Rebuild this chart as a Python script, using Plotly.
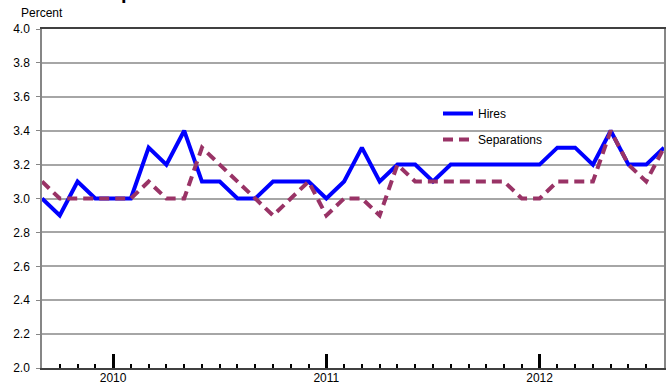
import plotly.graph_objects as go

months = ["Sep 2009", "Oct 2009", "Nov 2009", "Dec 2009",
          "Jan 2010", "Feb 2010", "Mar 2010", "Apr 2010", "May 2010", "Jun 2010",
          "Jul 2010", "Aug 2010", "Sep 2010", "Oct 2010", "Nov 2010", "Dec 2010",
          "Jan 2011", "Feb 2011", "Mar 2011", "Apr 2011", "May 2011", "Jun 2011",
          "Jul 2011", "Aug 2011", "Sep 2011", "Oct 2011", "Nov 2011", "Dec 2011",
          "Jan 2012", "Feb 2012", "Mar 2012", "Apr 2012", "May 2012", "Jun 2012",
          "Jul 2012", "Aug 2012"]

hires = [3.0, 2.9, 3.1, 3.0, 3.0, 3.0, 3.3, 3.2, 3.4, 3.1, 3.1, 3.0,
         3.0, 3.1, 3.1, 3.1, 3.0, 3.1, 3.3, 3.1, 3.2, 3.2, 3.1, 3.2,
         3.2, 3.2, 3.2, 3.2, 3.2, 3.3, 3.3, 3.2, 3.4, 3.2, 3.2, 3.3]

separations = [3.1, 3.0, 3.0, 3.0, 3.0, 3.0, 3.1, 3.0, 3.0, 3.3, 3.2, 3.1,
               3.0, 2.9, 3.0, 3.1, 2.9, 3.0, 3.0, 2.9, 3.2, 3.1, 3.1, 3.1,
               3.1, 3.1, 3.1, 3.0, 3.0, 3.1, 3.1, 3.1, 3.4, 3.2, 3.1, 3.3]

year_labels = ["2010", "2011", "2012"]
year_months = ["Jan 2010", "Jan 2011", "Jan 2012"]
y_ticks = [2.0, 2.2, 2.4, 2.6, 2.8, 3.0, 3.2, 3.4, 3.6, 3.8, 4.0]

x_idx = list(range(len(months)))
year_pos = [months.index(m) for m in year_months]

FONT = "Liberation Sans, Arial, sans-serif"

fig = go.Figure()
fig.add_trace(go.Scatter(
    x=x_idx, y=hires, name="Hires", mode="lines", legendgroup="h",
    line=dict(color="#0000FF", width=4),
    text=months, hovertemplate="%{text}: %{y}<extra>Hires</extra>"))
fig.add_trace(go.Scatter(
    x=x_idx, y=separations, name="Separations", mode="lines", legendgroup="s",
    line=dict(color="#993366", width=4, dash="10px,6px"),
    text=months, hovertemplate="%{text}: %{y}<extra>Separations</extra>"))

fig.update_layout(
    width=666, height=385,
    margin=dict(l=42, r=2, t=29, b=17, autoexpand=False),
    paper_bgcolor="white", plot_bgcolor="white",
    font=dict(family=FONT, size=12, color="black"),
    showlegend=True,
    legend=dict(x=(438 - 42) / 622, y=(368 - 99) / 339, xanchor="left", yanchor="top",
                bgcolor="rgba(0,0,0,0)", font=dict(size=12, family=FONT),
                tracegroupgap=7, itemwidth=30),
    xaxis=dict(range=[0, len(months) - 1], tickvals=year_pos, ticktext=year_labels,
               ticks="inside", ticklen=14, tickwidth=3, tickcolor="black",
               ticklabelstandoff=-2,
               showgrid=False, zeroline=False, automargin=False,
               showline=True, linecolor="#404040", linewidth=1.5, mirror=True,
               minor=dict(dtick=1, tick0=0, ticks="inside", ticklen=4, tickwidth=1.5,
                          tickcolor="black", showgrid=False),
               tickfont=dict(size=12, family=FONT)),
    yaxis=dict(range=[2.0, 4.0], tickvals=y_ticks, ticktext=[f"{v:.1f}" for v in y_ticks],
               ticks="outside", ticklen=4, tickcolor="#868686", ticklabelstandoff=4,
               showgrid=True, gridcolor="#a6a6a6", gridwidth=1.5, zeroline=False,
               automargin=False,
               showline=True, linecolor="#868686", linewidth=1.5, mirror=True,
               tickfont=dict(size=12, family=FONT)),
    annotations=[
        dict(text="Percent", xref="paper", yref="paper", x=(19 - 42) / 622, y=(368 - 13) / 339,
             xanchor="left", yanchor="middle", showarrow=False,
             font=dict(size=12, family=FONT)),
        dict(text="<b>Hires and separations rates</b>", xref="paper", yref="paper",
             x=(0 - 42) / 622, y=(368 - 5) / 339, xanchor="left", yanchor="bottom",
             showarrow=False, font=dict(size=20, family=FONT)),
    ],
)

fig.write_html("out.html", config={"displayModeBar": False},
               post_script="document.body.style.margin='0';document.body.style.padding='0';")
